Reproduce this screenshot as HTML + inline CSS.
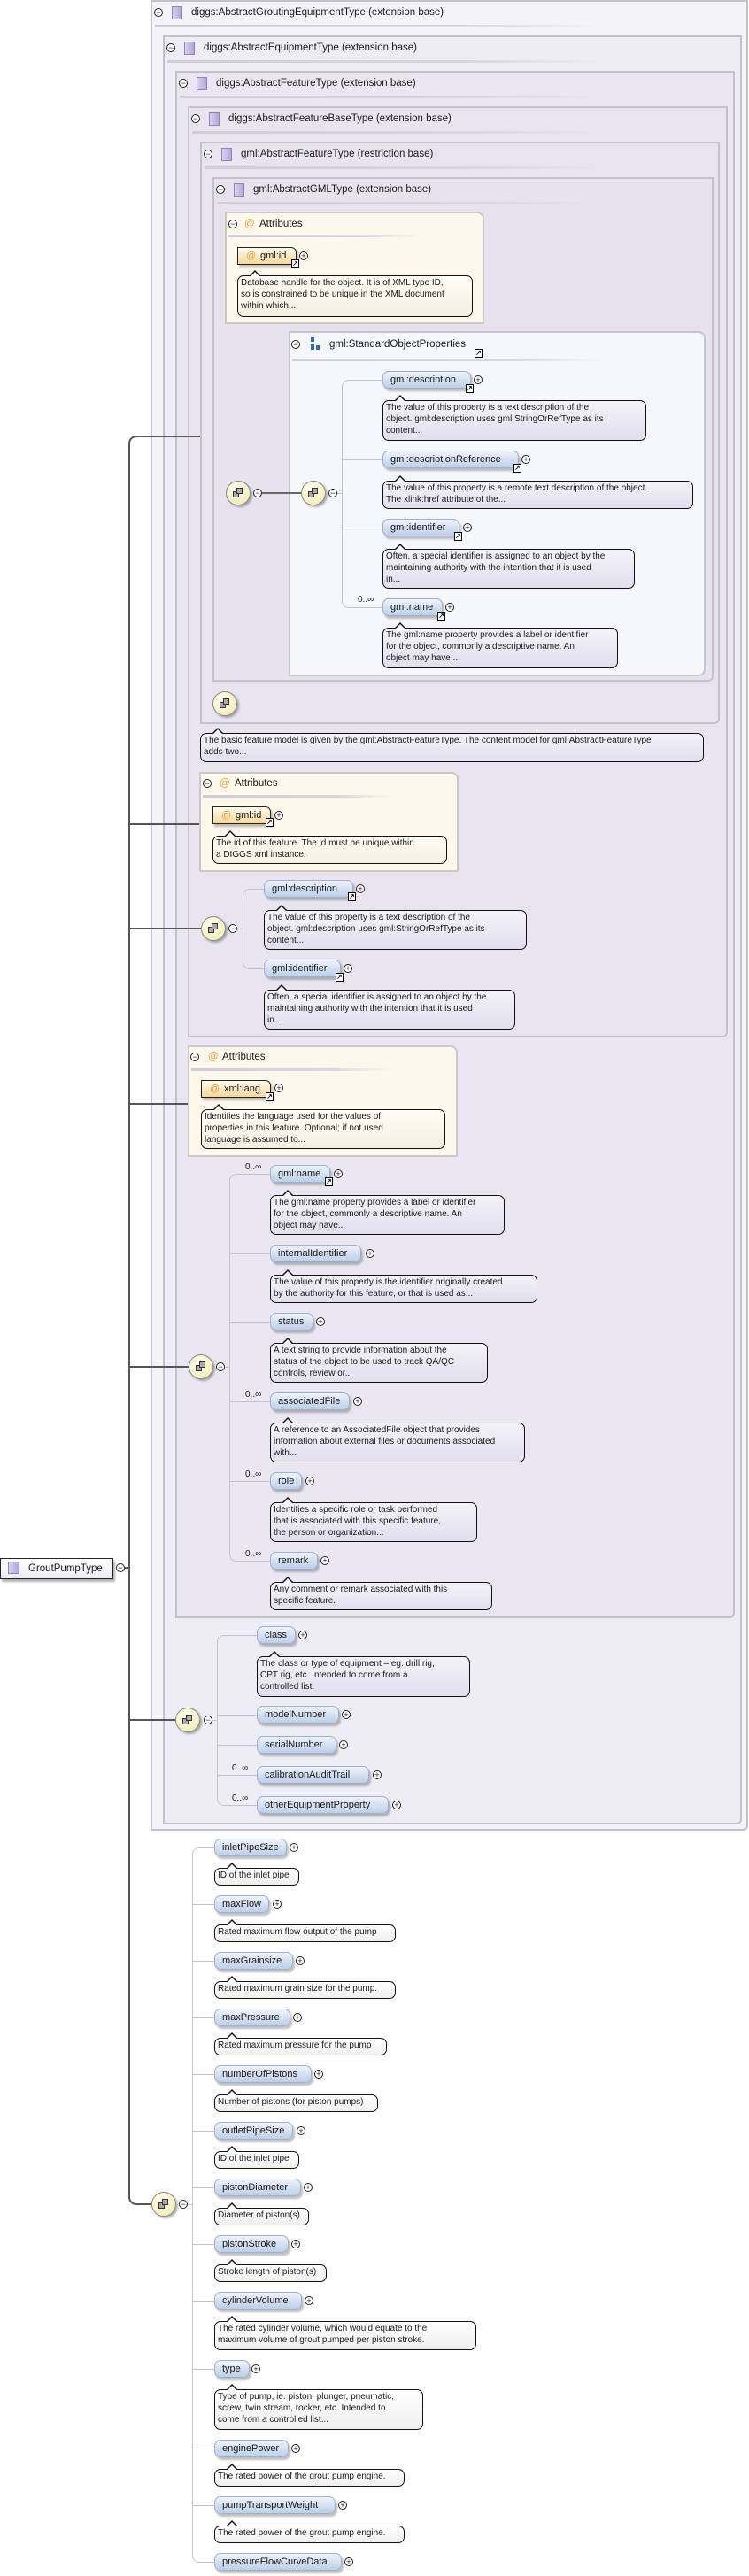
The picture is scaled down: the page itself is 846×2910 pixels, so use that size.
<!DOCTYPE html>
<html><head><meta charset="utf-8">
<style>
*{box-sizing:border-box;margin:0;padding:0}
body{width:846px;height:2910px;background:#fff;position:relative;overflow:hidden;font-family:"Liberation Sans",sans-serif;color:#1a1a1a}
div,span{position:absolute}
.bx{border:2px solid #c3c2cb;border-radius:0 0 6px 0}
.hd{font-size:11.5px;white-space:nowrap;line-height:14px}
.sq{width:12px;height:15px;background:linear-gradient(90deg,#d9d2ef,#b2a6da);border:1px solid #8e86b0}
.sep{height:3px;background:linear-gradient(90deg,#cfcdd8,#d8d6e0 70%,rgba(216,214,224,0))}
.mi,.pl{width:10px;height:10px;border:1px solid #222;border-radius:50%;font-size:9px;line-height:8px;text-align:center;background:#fff}
.p{height:20px;border-radius:7px;background:linear-gradient(#eef3fb,#bccfe9);border:1px solid #9eb0cc;box-shadow:2px 3px 2px rgba(0,0,0,.25);font-size:11px;line-height:18px;padding-left:8px;white-space:nowrap}
.a{height:20px;background:linear-gradient(#fffbee,#f6d79a);border:1px solid #222;border-radius:0 6px 0 0;box-shadow:2px 3px 2px rgba(0,0,0,.25);font-size:11px;line-height:18px;padding-left:25px;white-space:nowrap}
.a:before{content:"@";position:absolute;left:9px;top:0;color:#e8a040}
.lk{width:9px;height:10px;border:1px solid #000;background:#fff;font-size:8px;line-height:8px;text-align:center;font-weight:bold}
.c{border:1px solid #111;border-radius:7px;font-size:10px;line-height:13px;padding:1px 3px;white-space:nowrap;background:linear-gradient(#f4f2f9,#e2dfee)}
.c:before{content:"";position:absolute;left:13px;top:-7px;border-left:6px solid transparent;border-right:6px solid transparent;border-bottom:6px solid #111}
.c:after{content:"";position:absolute;left:14px;top:-5px;border-left:5px solid transparent;border-right:5px solid transparent;border-bottom:5px solid #f4f2f9}
.cy{background:linear-gradient(#fffdf7,#f6efe0)}
.cy:after{border-bottom-color:#fffdf7}
.cw{background:linear-gradient(#fff,#efefef)}
.cw:after{border-bottom-color:#fff}
.at{background:#fdf8ec;border:2px solid #cbc8c6;border-radius:0 8px 0 0}
.sg{width:28px;height:28px;border-radius:50%;background:radial-gradient(circle at 40% 35%,#fffff0,#efe8a8);border:1px solid #888;box-shadow:2px 2px 2px rgba(0,0,0,.3)}
.sg i{position:absolute;width:7px;height:7px;background:#aaa;border:1px solid #333}
.m{font-size:10px;white-space:nowrap}
.ln{background:#555}
.gl{background:#c4c4c4}
</style></head><body>

<!-- nested boxes -->
<div class="bx" style="left:170px;top:0;width:675px;height:2068px;background:#f4f3f8"></div>
<div class="bx" style="left:184px;top:40px;width:654px;height:2021px;background:#eeecf4"></div>
<div class="bx" style="left:198px;top:80px;width:632px;height:1748px;background:#eae7f2"></div>
<div class="bx" style="left:212px;top:120px;width:610px;height:1052px;background:#e8e5f1"></div>
<div class="bx" style="left:226px;top:160px;width:587px;height:658px;background:#e7e4f0"></div>
<div class="bx" style="left:240px;top:200px;width:566px;height:570px;background:#e6e3ef"></div>

<!-- headers -->
<div class="mi" style="left:174px;top:9px">−</div><div class="sq" style="left:194px;top:7px"></div><div class="hd" style="left:216px;top:7px">diggs:AbstractGroutingEquipmentType (extension base)</div><div class="sep" style="left:175px;top:28px;width:505px"></div>
<div class="mi" style="left:188px;top:49px">−</div><div class="sq" style="left:208px;top:47px"></div><div class="hd" style="left:230px;top:47px">diggs:AbstractEquipmentType (extension base)</div><div class="sep" style="left:189px;top:68px;width:490px"></div>
<div class="mi" style="left:202px;top:89px">−</div><div class="sq" style="left:222px;top:87px"></div><div class="hd" style="left:244px;top:87px">diggs:AbstractFeatureType (extension base)</div><div class="sep" style="left:203px;top:108px;width:475px"></div>
<div class="mi" style="left:216px;top:129px">−</div><div class="sq" style="left:236px;top:127px"></div><div class="hd" style="left:258px;top:127px">diggs:AbstractFeatureBaseType (extension base)</div><div class="sep" style="left:217px;top:148px;width:460px"></div>
<div class="mi" style="left:230px;top:169px">−</div><div class="sq" style="left:250px;top:167px"></div><div class="hd" style="left:272px;top:167px">gml:AbstractFeatureType (restriction base)</div><div class="sep" style="left:231px;top:188px;width:445px"></div>
<div class="mi" style="left:244px;top:209px">−</div><div class="sq" style="left:264px;top:207px"></div><div class="hd" style="left:286px;top:207px">gml:AbstractGMLType (extension base)</div><div class="sep" style="left:245px;top:228px;width:430px"></div>

<!-- Attributes 1 -->
<div class="at" style="left:254px;top:239px;width:293px;height:127px"></div>
<div class="mi" style="left:258px;top:248px">−</div><div class="hd" style="left:276px;top:246px;color:#e8a040">@</div><div class="hd" style="left:293px;top:246px">Attributes</div>
<div class="sep" style="left:258px;top:265px;width:215px"></div>
<div class="a" style="left:268px;top:279px;width:67px">gml:id</div>
<div class="lk" style="left:329px;top:293px">↗</div><div class="pl" style="left:338px;top:284px">+</div>
<div class="c cy" style="left:268px;top:311px;width:266px;height:47px">Database handle for the object. It is of XML type ID,<br>so is constrained to be unique in the XML document<br>within which...</div>

<!-- SOP box -->
<div style="left:326px;top:374px;width:471px;height:390px;background:#f6f7fb;border:2px solid #c6c6cf;border-radius:0 8px 8px 0"></div>
<div class="mi" style="left:329px;top:384px">−</div>
<div style="left:351px;top:381px;width:4px;height:5px;background:#2f6fc0"></div><div style="left:351px;top:389px;width:4px;height:6px;background:#2f6fc0"></div><div style="left:357px;top:390px;width:4px;height:5px;background:#2f6fc0"></div>
<div class="hd" style="left:372px;top:382px">gml:StandardObjectProperties</div>
<div class="lk" style="left:536px;top:394px">↗</div>
<div class="sep" style="left:330px;top:405px;width:350px"></div>

<!-- SOP connectors -->
<div class="sg" style="left:255px;top:543px"><i style="left:7px;top:11px"></i><i style="left:11px;top:7px"></i></div>
<div class="mi" style="left:286px;top:552px">−</div>
<div class="ln" style="left:296px;top:556px;width:44px;height:2px;background:#666"></div>
<div class="sg" style="left:340px;top:543px"><i style="left:7px;top:11px"></i><i style="left:11px;top:7px"></i></div>
<div class="mi" style="left:371px;top:552px">−</div>
<div style="left:386px;top:429px;width:46px;height:258px;border:1px solid #c4c4c4;border-right:none;border-radius:8px 0 0 8px"></div>
<div class="gl" style="left:381px;top:557px;width:5px;height:1px"></div>
<div class="gl" style="left:386px;top:519px;width:46px;height:1px"></div>
<div class="gl" style="left:386px;top:596px;width:46px;height:1px"></div>

<div class="p" style="left:432px;top:419px;width:100px">gml:description</div><div class="lk" style="left:526px;top:434px">↗</div><div class="pl" style="left:535px;top:424px">+</div>
<div class="c" style="left:432px;top:452px;width:298px;height:46px">The value of this property is a text description of the<br>object. gml:description uses gml:StringOrRefType as its<br>content...</div>
<div class="p" style="left:432px;top:509px;width:154px">gml:descriptionReference</div><div class="lk" style="left:580px;top:524px">↗</div><div class="pl" style="left:589px;top:514px">+</div>
<div class="c" style="left:432px;top:543px;width:351px;height:32px">The value of this property is a remote text description of the object.<br>The xlink:href attribute of the...</div>
<div class="p" style="left:432px;top:586px;width:87px">gml:identifier</div><div class="lk" style="left:513px;top:601px">↗</div><div class="pl" style="left:523px;top:591px">+</div>
<div class="c" style="left:432px;top:620px;width:285px;height:45px">Often, a special identifier is assigned to an object by the<br>maintaining authority with the intention that it is used<br>in...</div>
<div class="m" style="left:404px;top:672px">0..∞</div>
<div class="p" style="left:432px;top:676px;width:68px">gml:name</div><div class="lk" style="left:494px;top:691px">↗</div><div class="pl" style="left:503px;top:681px">+</div>
<div class="c" style="left:432px;top:709px;width:266px;height:46px">The gml:name property provides a label or identifier<br>for the object, commonly a descriptive name. An<br>object may have...</div>

<!-- box5 lone sequence -->
<div class="sg" style="left:240px;top:781px"><i style="left:7px;top:11px"></i><i style="left:11px;top:7px"></i></div>
<div class="c" style="left:226px;top:828px;width:569px;height:33px">The basic feature model is given by the gml:AbstractFeatureType. The content model for gml:AbstractFeatureType<br>adds two...</div>

<!-- Attributes 2 -->
<div class="at" style="left:225px;top:872px;width:293px;height:113px"></div>
<div class="mi" style="left:229px;top:880px">−</div><div class="hd" style="left:248px;top:878px;color:#e8a040">@</div><div class="hd" style="left:265px;top:878px">Attributes</div>
<div class="sep" style="left:229px;top:898px;width:215px"></div>
<div class="a" style="left:240px;top:911px;width:66px">gml:id</div>
<div class="lk" style="left:300px;top:924px">↗</div><div class="pl" style="left:310px;top:916px">+</div>
<div class="c cy" style="left:240px;top:944px;width:265px;height:32px">The id of this feature. The id must be unique within<br>a DIGGS xml instance.</div>

<!-- section 4 -->
<div class="sg" style="left:227px;top:1035px"><i style="left:7px;top:11px"></i><i style="left:11px;top:7px"></i></div>
<div class="mi" style="left:258px;top:1044px">−</div>
<div style="left:274px;top:1004px;width:24px;height:91px;border:1px solid #c4c4c4;border-right:none;border-radius:8px 0 0 8px"></div>
<div class="gl" style="left:268px;top:1049px;width:6px;height:1px"></div>
<div class="p" style="left:298px;top:994px;width:101px">gml:description</div><div class="lk" style="left:393px;top:1008px">↗</div><div class="pl" style="left:402px;top:999px">+</div>
<div class="c" style="left:298px;top:1028px;width:297px;height:45px">The value of this property is a text description of the<br>object. gml:description uses gml:StringOrRefType as its<br>content...</div>
<div class="p" style="left:298px;top:1084px;width:87px">gml:identifier</div><div class="lk" style="left:379px;top:1099px">↗</div><div class="pl" style="left:388px;top:1089px">+</div>
<div class="c" style="left:298px;top:1118px;width:284px;height:45px">Often, a special identifier is assigned to an object by the<br>maintaining authority with the intention that it is used<br>in...</div>

<!-- Attributes 3 -->
<div class="at" style="left:212px;top:1181px;width:305px;height:126px"></div>
<div class="mi" style="left:215px;top:1189px">−</div><div class="hd" style="left:235px;top:1187px;color:#e8a040">@</div><div class="hd" style="left:251px;top:1187px">Attributes</div>
<div class="sep" style="left:216px;top:1207px;width:225px"></div>
<div class="a" style="left:227px;top:1220px;width:79px">xml:lang</div>
<div class="lk" style="left:300px;top:1234px">↗</div><div class="pl" style="left:310px;top:1224px">+</div>
<div class="c cy" style="left:227px;top:1253px;width:276px;height:45px">Identifies the language used for the values of<br>properties in this feature. Optional; if not used<br>language is assumed to...</div>

<!-- section 3 -->
<div class="sg" style="left:213px;top:1530px"><i style="left:7px;top:11px"></i><i style="left:11px;top:7px"></i></div>
<div class="mi" style="left:244px;top:1539px">−</div>
<div style="left:259px;top:1326px;width:46px;height:438px;border:1px solid #c4c4c4;border-right:none;border-radius:8px 0 0 8px"></div>
<div class="gl" style="left:254px;top:1544px;width:5px;height:1px"></div>
<div class="gl" style="left:259px;top:1416px;width:46px;height:1px"></div>
<div class="gl" style="left:259px;top:1493px;width:46px;height:1px"></div>
<div class="gl" style="left:259px;top:1583px;width:46px;height:1px"></div>
<div class="gl" style="left:259px;top:1673px;width:46px;height:1px"></div>

<div class="m" style="left:277px;top:1313px">0..∞</div>
<div class="p" style="left:305px;top:1316px;width:68px">gml:name</div><div class="lk" style="left:367px;top:1330px">↗</div><div class="pl" style="left:377px;top:1321px">+</div>
<div class="c" style="left:305px;top:1350px;width:265px;height:45px">The gml:name property provides a label or identifier<br>for the object, commonly a descriptive name. An<br>object may have...</div>
<div class="p" style="left:305px;top:1406px;width:103px">internalIdentifier</div><div class="pl" style="left:413px;top:1411px">+</div>
<div class="c" style="left:305px;top:1440px;width:302px;height:32px">The value of this property is the identifier originally created<br>by the authority for this feature, or that is used as...</div>
<div class="p" style="left:305px;top:1483px;width:49px">status</div><div class="pl" style="left:357px;top:1488px">+</div>
<div class="c" style="left:305px;top:1517px;width:246px;height:45px">A text string to provide information about the<br>status of the object to be used to track QA/QC<br>controls, review or...</div>
<div class="m" style="left:277px;top:1570px">0..∞</div>
<div class="p" style="left:305px;top:1573px;width:90px">associatedFile</div><div class="pl" style="left:399px;top:1578px">+</div>
<div class="c" style="left:305px;top:1607px;width:288px;height:45px">A reference to an AssociatedFile object that provides<br>information about external files or documents associated<br>with...</div>
<div class="m" style="left:277px;top:1660px">0..∞</div>
<div class="p" style="left:305px;top:1663px;width:36px">role</div><div class="pl" style="left:345px;top:1668px">+</div>
<div class="c" style="left:305px;top:1697px;width:234px;height:45px">Identifies a specific role or task performed<br>that is associated with this specific feature,<br>the person or organization...</div>
<div class="m" style="left:277px;top:1750px">0..∞</div>
<div class="p" style="left:305px;top:1753px;width:54px">remark</div><div class="pl" style="left:362px;top:1758px">+</div>
<div class="c" style="left:305px;top:1787px;width:251px;height:32px">Any comment or remark associated with this<br>specific feature.</div>

<!-- section 2 -->
<div class="sg" style="left:198px;top:1929px"><i style="left:7px;top:11px"></i><i style="left:11px;top:7px"></i></div>
<div class="mi" style="left:230px;top:1938px">−</div>
<div style="left:245px;top:1847px;width:45px;height:193px;border:1px solid #c4c4c4;border-right:none;border-radius:8px 0 0 8px"></div>
<div class="gl" style="left:240px;top:1943px;width:5px;height:1px"></div>
<div class="gl" style="left:245px;top:1937px;width:45px;height:1px"></div>
<div class="gl" style="left:245px;top:1971px;width:45px;height:1px"></div>
<div class="gl" style="left:245px;top:2005px;width:45px;height:1px"></div>
<div class="p" style="left:290px;top:1837px;width:44px">class</div><div class="pl" style="left:337px;top:1842px">+</div>
<div class="c" style="left:290px;top:1871px;width:241px;height:46px">The class or type of equipment – eg. drill rig,<br>CPT rig, etc. Intended to come from a<br>controlled list.</div>
<div class="p" style="left:290px;top:1927px;width:93px">modelNumber</div><div class="pl" style="left:386px;top:1932px">+</div>
<div class="p" style="left:290px;top:1961px;width:90px">serialNumber</div><div class="pl" style="left:383px;top:1966px">+</div>
<div class="m" style="left:262px;top:1992px">0..∞</div>
<div class="p" style="left:290px;top:1995px;width:127px">calibrationAuditTrail</div><div class="pl" style="left:421px;top:2000px">+</div>
<div class="m" style="left:262px;top:2026px">0..∞</div>
<div class="p" style="left:290px;top:2029px;width:149px">otherEquipmentProperty</div><div class="pl" style="left:443px;top:2034px">+</div>

<!-- main connector -->
<div style="left:145px;top:492px;width:81px;height:20px;border-top:2px solid #555;border-left:2px solid #555;border-radius:9px 0 0 0"></div>
<div class="ln" style="left:145px;top:510px;width:2px;height:1966px"></div>
<div style="left:145px;top:2470px;width:26px;height:21px;border-bottom:2px solid #555;border-left:2px solid #555;border-radius:0 0 0 9px"></div>
<div class="ln" style="left:145px;top:930px;width:80px;height:2px"></div>
<div class="ln" style="left:145px;top:1048px;width:82px;height:2px"></div>
<div class="ln" style="left:145px;top:1246px;width:67px;height:2px"></div>
<div class="ln" style="left:145px;top:1543px;width:68px;height:2px"></div>
<div class="ln" style="left:145px;top:1942px;width:53px;height:2px"></div>

<!-- root -->
<div style="left:0;top:1760px;width:128px;height:24px;background:linear-gradient(#fff,#ecebf3);border:1px solid #222;box-shadow:2px 3px 2px rgba(0,0,0,.3)"></div>
<div class="sq" style="left:9px;top:1764px;width:13px;height:14px"></div>
<div class="hd" style="left:32px;top:1765px">GroutPumpType</div>
<div class="mi" style="left:131px;top:1766px">−</div>
<div class="ln" style="left:141px;top:1770px;width:4px;height:2px"></div>

<!-- bottom sequence -->
<div class="sg" style="left:171px;top:2476px"><i style="left:7px;top:11px"></i><i style="left:11px;top:7px"></i></div>
<div class="mi" style="left:202px;top:2485px">−</div>
<div style="left:217px;top:2087px;width:25px;height:808px;border:1px solid #c4c4c4;border-right:none;border-radius:8px 0 0 8px"></div>
<div class="gl" style="left:212px;top:2490px;width:5px;height:1px"></div>
<div class="gl" style="left:217px;top:2151px;width:25px;height:1px"></div>
<div class="gl" style="left:217px;top:2215px;width:25px;height:1px"></div>
<div class="gl" style="left:217px;top:2279px;width:25px;height:1px"></div>
<div class="gl" style="left:217px;top:2343px;width:25px;height:1px"></div>
<div class="gl" style="left:217px;top:2407px;width:25px;height:1px"></div>
<div class="gl" style="left:217px;top:2471px;width:25px;height:1px"></div>
<div class="gl" style="left:217px;top:2535px;width:25px;height:1px"></div>
<div class="gl" style="left:217px;top:2599px;width:25px;height:1px"></div>
<div class="gl" style="left:217px;top:2676px;width:25px;height:1px"></div>
<div class="gl" style="left:217px;top:2766px;width:25px;height:1px"></div>
<div class="gl" style="left:217px;top:2830px;width:25px;height:1px"></div>

<div class="p" style="left:242px;top:2077px;width:82px">inletPipeSize</div><div class="pl" style="left:327px;top:2082px">+</div>
<div class="c cw" style="left:242px;top:2110px;width:96px;height:20px">ID of the inlet pipe</div>
<div class="p" style="left:242px;top:2141px;width:62px">maxFlow</div><div class="pl" style="left:308px;top:2146px">+</div>
<div class="c cw" style="left:242px;top:2174px;width:205px;height:20px">Rated maximum flow output of the pump</div>
<div class="p" style="left:242px;top:2205px;width:89px">maxGrainsize</div><div class="pl" style="left:334px;top:2210px">+</div>
<div class="c cw" style="left:242px;top:2238px;width:205px;height:20px">Rated maximum grain size for the pump.</div>
<div class="p" style="left:242px;top:2269px;width:86px">maxPressure</div><div class="pl" style="left:331px;top:2274px">+</div>
<div class="c cw" style="left:242px;top:2302px;width:195px;height:20px">Rated maximum pressure for the pump</div>
<div class="p" style="left:242px;top:2333px;width:110px">numberOfPistons</div><div class="pl" style="left:355px;top:2338px">+</div>
<div class="c cw" style="left:242px;top:2366px;width:185px;height:20px">Number of pistons (for piston pumps)</div>
<div class="p" style="left:242px;top:2397px;width:89px">outletPipeSize</div><div class="pl" style="left:335px;top:2402px">+</div>
<div class="c cw" style="left:242px;top:2430px;width:96px;height:20px">ID of the inlet pipe</div>
<div class="p" style="left:242px;top:2461px;width:98px">pistonDiameter</div><div class="pl" style="left:343px;top:2466px">+</div>
<div class="c cw" style="left:242px;top:2494px;width:107px;height:20px">Diameter of piston(s)</div>
<div class="p" style="left:242px;top:2525px;width:84px">pistonStroke</div><div class="pl" style="left:329px;top:2530px">+</div>
<div class="c cw" style="left:242px;top:2558px;width:127px;height:20px">Stroke length of piston(s)</div>
<div class="p" style="left:242px;top:2589px;width:99px">cylinderVolume</div><div class="pl" style="left:344px;top:2594px">+</div>
<div class="c cw" style="left:242px;top:2622px;width:296px;height:33px">The rated cylinder volume, which would equate to the<br>maximum volume of grout pumped per piston stroke.</div>
<div class="p" style="left:242px;top:2666px;width:40px">type</div><div class="pl" style="left:284px;top:2671px">+</div>
<div class="c cw" style="left:242px;top:2699px;width:236px;height:46px">Type of pump, ie. piston, plunger, pneumatic,<br>screw, twin stream, rocker, etc. Intended to<br>come from a controlled list...</div>
<div class="p" style="left:242px;top:2756px;width:84px">enginePower</div><div class="pl" style="left:329px;top:2761px">+</div>
<div class="c cw" style="left:242px;top:2789px;width:215px;height:20px">The rated power of the grout pump engine.</div>
<div class="p" style="left:242px;top:2820px;width:137px">pumpTransportWeight</div><div class="pl" style="left:382px;top:2825px">+</div>
<div class="c cw" style="left:242px;top:2853px;width:215px;height:20px">The rated power of the grout pump engine.</div>
<div class="p" style="left:242px;top:2884px;width:144px">pressureFlowCurveData</div><div class="pl" style="left:389px;top:2889px">+</div>

</body></html>
